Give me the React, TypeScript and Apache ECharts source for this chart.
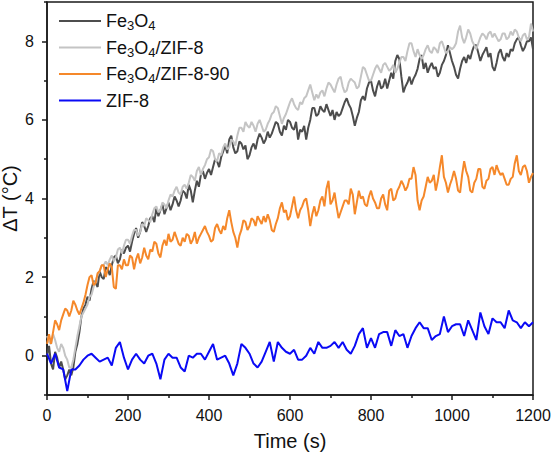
import React, { useEffect, useRef } from 'react';
import * as echarts from 'echarts';

// sampling times (s): 5 s grid for the three Fe3O4 traces, 10 s grid for ZIF-8
const times5 = [
  0, 5, 10, 15, 20, 25, 30, 35, 40, 45, 50, 55, 60, 65, 70, 75, 80, 85, 90, 95,
  100, 105, 110, 115, 120, 125, 130, 135, 140, 145, 150, 155, 160, 165, 170, 175, 180, 185, 190, 195,
  200, 205, 210, 215, 220, 225, 230, 235, 240, 245, 250, 255, 260, 265, 270, 275, 280, 285, 290, 295,
  300, 305, 310, 315, 320, 325, 330, 335, 340, 345, 350, 355, 360, 365, 370, 375, 380, 385, 390, 395,
  400, 405, 410, 415, 420, 425, 430, 435, 440, 445, 450, 455, 460, 465, 470, 475, 480, 485, 490, 495,
  500, 505, 510, 515, 520, 525, 530, 535, 540, 545, 550, 555, 560, 565, 570, 575, 580, 585, 590, 595,
  600, 605, 610, 615, 620, 625, 630, 635, 640, 645, 650, 655, 660, 665, 670, 675, 680, 685, 690, 695,
  700, 705, 710, 715, 720, 725, 730, 735, 740, 745, 750, 755, 760, 765, 770, 775, 780, 785, 790, 795,
  800, 805, 810, 815, 820, 825, 830, 835, 840, 845, 850, 855, 860, 865, 870, 875, 880, 885, 890, 895,
  900, 905, 910, 915, 920, 925, 930, 935, 940, 945, 950, 955, 960, 965, 970, 975, 980, 985, 990, 995,
  1000, 1005, 1010, 1015, 1020, 1025, 1030, 1035, 1040, 1045, 1050, 1055, 1060, 1065, 1070, 1075, 1080, 1085, 1090, 1095,
  1100, 1105, 1110, 1115, 1120, 1125, 1130, 1135, 1140, 1145, 1150, 1155, 1160, 1165, 1170, 1175, 1180, 1185, 1190, 1195,
  1200,
];

const times10 = [
  0, 10, 20, 30, 40, 50, 60, 70, 80, 90,
  100, 110, 120, 130, 140, 150, 160, 170, 180, 190,
  200, 210, 220, 230, 240, 250, 260, 270, 280, 290,
  300, 310, 320, 330, 340, 350, 360, 370, 380, 390,
  400, 410, 420, 430, 440, 450, 460, 470, 480, 490,
  500, 510, 520, 530, 540, 550, 560, 570, 580, 590,
  600, 610, 620, 630, 640, 650, 660, 670, 680, 690,
  700, 710, 720, 730, 740, 750, 760, 770, 780, 790,
  800, 810, 820, 830, 840, 850, 860, 870, 880, 890,
  900, 910, 920, 930, 940, 950, 960, 970, 980, 990,
  1000, 1010, 1020, 1030, 1040, 1050, 1060, 1070, 1080, 1090,
  1100, 1110, 1120, 1130, 1140, 1150, 1160, 1170, 1180, 1190,
  1200,
];

const fe3o4 = [
  0.0, 0.25, -0.2, -0.35, 0.1, -0.05, -0.3, -0.15, -0.35, -0.6, -0.5, -0.35, -0.5, -0.3, 0.1, 0.3, 0.6, 1.0, 1.2, 1.3,
  1.5, 1.4, 1.7, 1.9, 1.85, 1.75, 2.15, 2.0, 1.95, 2.25, 2.2, 2.05, 2.3, 2.5, 2.55, 2.35, 2.45, 2.7, 2.6, 2.75,
  2.8, 2.65, 2.9, 3.1, 3.25, 3.0, 3.15, 3.4, 3.3, 3.15, 3.3, 3.5, 3.55, 3.4, 3.75, 3.55, 3.7, 3.85, 3.6, 3.75,
  3.9, 3.7, 3.85, 4.05, 3.95, 3.8, 3.95, 4.2, 4.15, 4.0, 4.35, 4.2, 3.9, 4.2, 4.45, 4.3, 4.6, 4.7, 4.5, 4.65,
  4.75, 4.6, 4.8, 5.0, 4.95, 4.8, 5.05, 5.2, 5.35, 5.15, 5.5, 5.6, 5.3, 5.15, 5.2, 5.45, 5.4, 5.25, 5.35, 5.0,
  5.1, 5.3, 5.4, 5.25, 5.5, 5.65, 5.55, 5.4, 5.5, 5.7, 5.55, 5.65, 5.8, 5.95, 5.9, 5.7, 5.6, 5.85, 5.75, 6.0,
  5.95, 5.8, 5.75, 5.95, 5.5, 5.75, 5.7, 5.85, 5.5, 5.8, 6.0, 6.3, 6.3, 6.1, 6.15, 6.35, 6.25, 6.2, 6.4, 6.25,
  6.1, 6.25, 6.0, 6.2, 6.1, 6.15, 6.3, 6.45, 6.55, 6.4, 6.3, 6.1, 5.85, 6.05, 6.2, 6.5, 6.6, 6.5, 6.8, 6.95,
  7.0, 6.75, 6.6, 6.85, 7.0, 6.8, 6.85, 7.05, 6.8, 7.0, 7.2, 7.05, 7.5, 7.65, 7.55, 7.1, 6.7, 6.85, 6.95, 7.1,
  6.9, 7.05, 7.15, 7.3, 7.55, 7.65, 7.3, 7.45, 7.2, 7.35, 7.45, 7.3, 7.35, 7.1, 7.2, 7.4, 7.5, 7.65, 7.9, 7.7,
  7.5, 7.35, 7.15, 7.05, 7.3, 7.5, 7.6, 7.45, 7.65, 7.55, 7.75, 7.9, 7.9, 7.7, 7.5, 7.65, 7.75, 7.85, 7.6, 7.7,
  7.35, 7.25, 7.45, 7.7, 7.8, 7.6, 7.5, 7.7, 7.6, 7.8, 7.75, 7.95, 8.05, 8.1, 7.9, 7.75, 7.85, 8.0, 8.0, 8.1,
  7.8,
];

const fe3o4Zif8 = [
  0.5, 0.35, 0.3, 0.55, 0.4, 0.2, 0.1, 0.3, 0.2, 0.0, -0.1, -0.3, -0.3, -0.1, 0.2, 0.5, 0.75, 1.0, 1.1, 1.2,
  1.3, 1.5, 1.55, 1.75, 1.9, 2.05, 2.15, 2.3, 2.3, 2.4, 2.3, 2.45, 2.55, 2.4, 2.5, 2.7, 2.75, 2.6, 2.8, 2.95,
  2.95, 2.85, 3.05, 3.2, 3.2, 3.05, 3.15, 3.35, 3.3, 3.5, 3.45, 3.4, 3.6, 3.75, 3.8, 3.65, 3.7, 3.9, 3.85, 3.75,
  3.95, 4.1, 4.05, 4.2, 4.3, 4.15, 4.1, 4.3, 4.35, 4.25, 4.4, 4.6, 4.55, 4.45, 4.7, 4.8, 4.6, 4.75, 4.85, 5.0,
  5.05, 5.25, 5.2, 5.0, 4.95, 5.15, 5.1, 5.3, 5.4, 5.25, 5.3, 5.5, 5.45, 5.35, 5.6, 5.8, 5.8, 5.7, 5.95, 5.85,
  5.8, 5.95, 5.85, 5.7, 5.9, 6.0, 5.85, 5.7, 5.75, 5.9, 6.0, 6.15, 6.2, 6.35, 6.3, 6.1, 5.9, 6.05, 6.15, 6.3,
  6.45, 6.55, 6.4, 6.3, 6.25, 6.45, 6.4, 6.55, 6.6, 6.75, 6.9, 6.7, 6.5, 6.65, 6.55, 6.7, 6.75, 6.6, 6.8, 6.95,
  6.9, 6.8, 6.7, 6.9, 7.05, 7.1, 6.85, 6.7, 6.75, 6.95, 7.05, 7.0, 6.95, 6.8, 6.85, 7.1, 7.35, 7.3, 7.15, 7.0,
  7.0, 7.15, 7.3, 7.4, 7.3, 7.2, 7.4, 7.45, 7.35, 7.25, 7.3, 7.4, 7.2, 7.3, 7.45, 7.6, 7.6, 7.5, 7.75, 7.95,
  7.95, 7.75, 7.6, 7.8, 7.65, 7.55, 7.65, 7.8, 7.9, 7.75, 7.7, 7.85, 7.8, 7.7, 7.95, 8.0, 7.85, 7.7, 7.75, 7.85,
  7.8, 7.85, 7.95, 8.25, 8.4, 8.1, 7.95, 8.1, 8.3, 8.2, 8.0, 7.9, 7.8, 7.95, 8.1, 8.2, 8.15, 8.05, 8.2, 8.25,
  8.1, 8.2, 8.1, 8.0, 8.05, 8.2, 8.2, 8.05, 8.1, 8.25, 8.15, 8.3, 8.25, 8.1, 8.0, 8.15, 8.2, 8.05, 8.1, 8.45,
  8.25,
];

const fe3o4Zif890 = [
  0.3, 0.55, 0.3, 0.6, 0.9, 0.8, 0.65, 0.9, 1.05, 1.2, 1.15, 1.0, 1.15, 1.4, 1.3, 1.15, 1.05, 1.2, 1.35, 1.55,
  1.8, 2.0, 2.05, 1.8, 1.85, 2.1, 2.15, 2.3, 2.3, 2.0, 2.2, 2.35, 2.25, 1.75, 1.7, 2.3, 2.3, 2.2, 2.45, 2.3,
  2.3, 2.55, 2.5, 2.2, 2.45, 2.6, 2.35, 2.5, 2.75, 2.55, 2.45, 2.7, 2.65, 2.9, 2.85, 2.6, 2.5, 2.8, 2.95, 2.8,
  3.1, 2.9, 2.95, 3.15, 3.0, 2.85, 2.8, 3.0, 2.9, 3.1, 3.05, 2.85, 2.95, 3.15, 2.85, 3.0, 3.1, 3.2, 3.3, 3.15,
  3.05, 2.9, 2.95, 3.25, 3.35, 3.2, 3.1, 3.3, 3.2, 3.5, 3.7, 3.4, 3.15, 3.0, 2.75, 3.05, 3.2, 3.45, 3.4, 3.2,
  3.3, 3.5, 3.45, 3.3, 3.55, 3.45, 3.35, 3.55, 3.4, 3.6, 3.45, 3.2, 3.15, 3.35, 3.5, 3.75, 3.9, 3.65, 3.7, 3.45,
  3.55, 3.8, 4.05, 3.7, 3.5, 3.7, 3.8, 3.95, 4.0, 3.7, 3.3, 3.6, 3.8, 3.55, 3.7, 3.95, 4.05, 3.8, 4.25, 4.45,
  3.85, 3.95, 4.15, 3.8, 3.5, 3.65, 3.8, 3.95, 3.95, 3.85, 4.25, 4.1, 3.6, 3.9, 4.2, 4.0, 4.05, 3.85, 3.8, 4.05,
  4.2, 4.0, 3.9, 3.75, 3.75, 4.0, 4.1, 3.85, 3.7, 4.2, 4.25, 3.95, 4.0, 4.2, 4.3, 4.45, 4.35, 4.2, 4.3, 4.5,
  4.5, 4.8, 4.6, 3.95, 3.7, 3.95, 4.05, 4.3, 4.55, 4.4, 4.45, 4.6, 4.2, 4.45, 4.8, 5.1, 4.55, 4.4, 4.15, 4.35,
  4.5, 4.7, 4.5, 4.2, 4.15, 4.6, 4.95, 4.7, 4.55, 4.2, 4.15, 4.4, 4.5, 4.75, 4.75, 4.3, 4.25, 4.45, 4.5, 4.75,
  4.8, 4.6, 4.85, 4.7, 4.6, 4.65, 4.5, 4.35, 4.35, 4.5, 4.55, 4.9, 5.1, 4.7, 4.6, 4.8, 4.85, 4.7, 4.4, 4.55,
  4.65,
];

const zif8 = [
  0.05, -0.2, 0.05, -0.3, -0.35, -0.9, -0.35, -0.35, -0.25, -0.1,
  0.0, 0.05, -0.05, -0.15, -0.1, -0.05, -0.25, 0.2, 0.35, -0.05,
  -0.35, -0.1, 0.05, -0.1, -0.2, 0.0, 0.05, -0.2, -0.6, -0.1,
  0.05, -0.05, -0.05, -0.3, -0.4, 0.0, -0.05, 0.05, 0.05, -0.1,
  0.1, 0.3, -0.1, -0.05, 0.0, -0.2, -0.5, -0.2, 0.3, 0.2,
  0.05, -0.2, -0.3, -0.15, 0.1, 0.35, -0.15, 0.35, 0.2, 0.1,
  0.05, 0.15, -0.1, -0.1, 0.0, 0.2, 0.05, 0.35, 0.2, 0.2,
  0.25, 0.35, 0.2, 0.35, 0.15, 0.05, 0.25, 0.55, 0.7, 0.2,
  0.45, 0.2, 0.55, 0.6, 0.6, 0.25, 0.65, 0.5, 0.55, 0.2,
  0.5, 0.7, 0.85, 0.7, 0.7, 0.4, 0.5, 0.55, 1.0, 0.6,
  0.75, 0.8, 0.8, 0.5, 0.9, 0.65, 0.4, 1.1, 0.75, 0.55,
  0.95, 0.85, 0.85, 0.7, 1.15, 0.9, 0.85, 0.7, 0.85, 0.75,
  0.85,
];

const seriesNames = ['Fe3O4', 'Fe3O4/ZIF-8', 'Fe3O4/ZIF-8-90', 'ZIF-8'];
const seriesColors = ['#4d4d4d', '#c4c4c4', '#f5882a', '#0a0af5'];
const seriesValues = [fe3o4, fe3o4Zif8, fe3o4Zif890, zif8];
const seriesTimes = [times5, times5, times5, times10];

const xLabelValues = [0, 200, 400, 600, 800, 1000, 1200];
const yLabelValues = [0, 2, 4, 6, 8];
const yMinorValues = [-1, 1, 3, 5, 7, 9];

const FONT = 'Liberation Sans, Arial, Helvetica, sans-serif';
const AXIS_COLOR = '#1a1a1a';

export default function App() {
  const ref = useRef<HTMLDivElement>(null);
  useEffect(() => {
    if (!ref.current) return;
    const chart = echarts.init(ref.current, null, { renderer: 'svg' });
    const series = seriesNames.map((name, k) => ({
      name,
      type: 'line',
      data: seriesTimes[k].map((t, i) => [t, seriesValues[k][i]]),
      symbol: 'none',
      showSymbol: false,
      lineStyle: { color: seriesColors[k], width: 2 },
      itemStyle: { color: seriesColors[k] },
      z: k === 3 ? 5 : 2,
    }));
    chart.setOption({
      animation: false,
      backgroundColor: '#ffffff',
      grid: {
        left: 47,
        right: 20,
        top: 2,
        bottom: 60,
        containLabel: false,
        outerBoundsMode: 'none',
        show: true,
        borderColor: AXIS_COLOR,
        borderWidth: 1.5,
      },
      legend: {
        orient: 'vertical',
        left: 59,
        top: 10,
        padding: 0,
        icon: 'rect',
        itemWidth: 42,
        itemHeight: 2,
        itemGap: 4.5,
        data: seriesNames,
        formatter: (name: string) => name.replace('Fe3O4', 'Fe{s|3}O{s|4}'),
        textStyle: {
          fontSize: 18,
          fontFamily: FONT,
          color: '#111',
          lineHeight: 22,
          rich: {
            s: {
              fontSize: 13,
              lineHeight: 13,
              verticalAlign: 'bottom',
              fontFamily: FONT,
              color: '#111',
            },
          },
        },
      },
      xAxis: {
        type: 'value',
        min: 0,
        max: 1200,
        interval: 200,
        name: 'Time (s)',
        nameLocation: 'middle',
        nameGap: 36,
        nameMoveOverlap: false,
        nameTextStyle: { fontSize: 20, fontFamily: FONT, color: '#111' },
        axisLine: { show: true, onZero: false, lineStyle: { color: AXIS_COLOR, width: 1.5 } },
        axisTick: { show: true, length: 5, lineStyle: { color: AXIS_COLOR, width: 1.5 } },
        minorTick: { show: true, splitNumber: 2, length: 3, lineStyle: { color: AXIS_COLOR, width: 1.5 } },
        axisLabel: {
          customValues: xLabelValues,
          formatter: (v: number) => String(v),
          fontSize: 16,
          fontFamily: FONT,
          color: '#111',
          margin: 12,
        },
        splitLine: { show: false },
        minorSplitLine: { show: false },
      },
      yAxis: [
        {
          type: 'value',
          min: -1,
          max: 9,
          interval: 1,
          name: 'ΔT (°C)',
          nameLocation: 'middle',
          nameGap: 27,
          nameMoveOverlap: false,
          nameTextStyle: { fontSize: 20, fontFamily: FONT, color: '#111' },
          axisLine: { show: true, onZero: false, lineStyle: { color: AXIS_COLOR, width: 1.5 } },
          axisTick: {
            show: true,
            length: 5,
            customValues: yLabelValues,
            lineStyle: { color: AXIS_COLOR, width: 1.5 },
          },
          axisLabel: {
            customValues: yLabelValues,
            formatter: (v: number) => String(v),
            fontSize: 16,
            fontFamily: FONT,
            color: '#111',
            margin: 13,
          },
          splitLine: { show: false },
        },
        {
          type: 'value',
          min: -1,
          max: 9,
          interval: 1,
          position: 'left',
          offset: 0,
          axisLine: { show: false, onZero: false },
          axisTick: {
            show: true,
            length: 3,
            customValues: yMinorValues,
            lineStyle: { color: AXIS_COLOR, width: 1.5 },
          },
          axisLabel: { show: false },
          splitLine: { show: false },
        },
      ],
      series,
    });
    return () => chart.dispose();
  }, []);
  return (
    <div
      ref={ref}
      style={{ position: 'fixed', left: 0, top: 0, width: 553, height: 455, background: '#fff' }}
    />
  );
}
